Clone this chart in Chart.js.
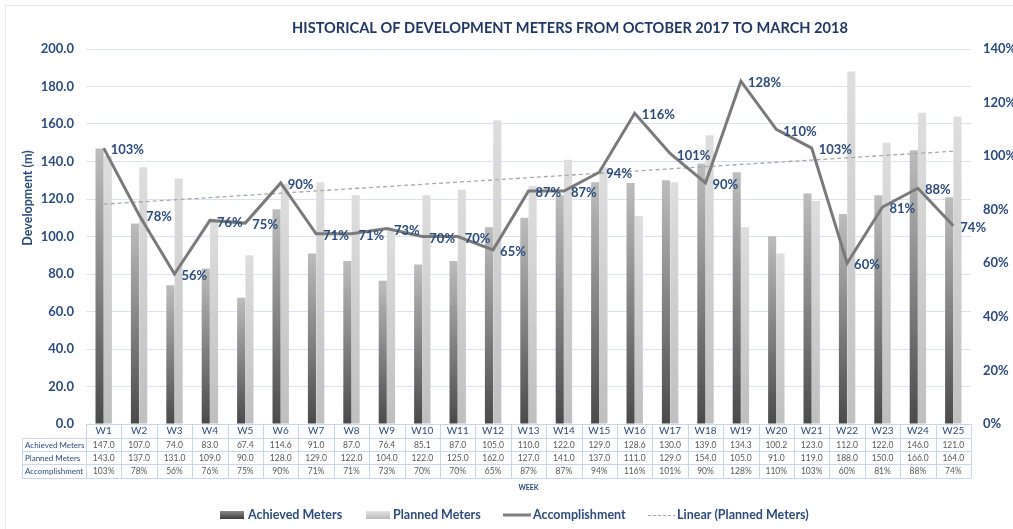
<!DOCTYPE html>
<html>
<head>
<meta charset="utf-8">
<script src="https://cdn.jsdelivr.net/npm/chart.js@4.4.1/dist/chart.umd.min.js"></script>
<style>
html,body{margin:0;padding:0;background:#fff;}
canvas{display:block;}
</style>
</head>
<body>
<canvas id="c" width="1013" height="529"></canvas>
<script>
const weeks = ['W1','W2','W3','W4','W5','W6','W7','W8','W9','W10','W11','W12','W13','W14','W15','W16','W17','W18','W19','W20','W21','W22','W23','W24','W25'];
const achieved = [147.0,107.0,74.0,83.0,67.4,114.6,91.0,87.0,76.4,85.1,87.0,105.0,110.0,122.0,129.0,128.6,130.0,139.0,134.3,100.2,123.0,112.0,122.0,146.0,121.0];
const planned = [143.0,137.0,131.0,109.0,90.0,128.0,129.0,122.0,104.0,122.0,125.0,162.0,127.0,141.0,137.0,111.0,129.0,154.0,105.0,91.0,119.0,188.0,150.0,166.0,164.0];
const accomplishment = [103,78,56,76,75,90,71,71,73,70,70,65,87,87,94,116,101,90,128,110,103,60,81,88,74];
const leftTicks = [0,20,40,60,80,100,120,140,160,180,200];
const rightTicks = [0,20,40,60,80,100,120,140];

// Linear trend of planned meters (least squares, as Excel's "Linear" trendline)
const trend = (function(){
  const n = planned.length; let sx=0, sy=0, sxx=0, sxy=0;
  planned.forEach((v,i)=>{const x=i+1; sx+=x; sy+=v; sxx+=x*x; sxy+=x*v;});
  const b = (n*sxy - sx*sy)/(n*sxx - sx*sx); const a = (sy - b*sx)/n;
  return planned.map((v,i)=>a + b*(i+1));
})();

const NAVY = '#2b4c7e';
const TITLE = '#1f3864';
const FONT = 'Lato, "Open Sans", sans-serif';

function barGrad(c0, c1){
  return function(ctx){
    const chart = ctx.chart;
    if (!chart.chartArea || ctx.type !== 'data' || !chart.scales.y) return c1;
    const ys = chart.scales.y;
    const top = ys.getPixelForValue(ctx.raw);
    const base = ys.getPixelForValue(0);
    if (!isFinite(top) || !isFinite(base) || top === base) return c1;
    const g = chart.ctx.createLinearGradient(0, base, 0, top);
    g.addColorStop(0, c0); g.addColorStop(1, c1);
    return g;
  };
}

const extras = {
  id: 'extras',
  afterDatasetsDraw(chart){
    const ctx = chart.ctx;
    const meta = chart.getDatasetMeta(0);
    ctx.save();
    ctx.font = 'bold 13px ' + FONT;
    ctx.fillStyle = NAVY;
    ctx.textAlign = 'left';
    ctx.textBaseline = 'middle';
    meta.data.forEach((pt,i)=>{
      ctx.fillText(accomplishment[i] + '%', pt.x + 7, pt.y + 2);
    });
    ctx.restore();
  },
  afterDraw(chart){
    const ctx = chart.ctx;
    const xs = chart.scales.x;
    const area = chart.chartArea;
    const colW = (area.right - area.left) / weeks.length;
    ctx.save();
    // outer chart border
    ctx.strokeStyle = '#e4e9f1'; ctx.lineWidth = 1;
    ctx.strokeRect(5.5, 5.5, 1013, 530);
    // title
    ctx.fillStyle = TITLE;
    ctx.font = 'bold 14.6px ' + FONT;
    ctx.textAlign = 'center'; ctx.textBaseline = 'middle';
    ctx.fillText('HISTORICAL OF DEVELOPMENT METERS FROM OCTOBER 2017 TO MARCH 2018', 570, 28);
    // y axis title
    ctx.save();
    ctx.translate(28, 198); ctx.rotate(-Math.PI/2);
    ctx.font = 'bold 12.5px ' + FONT; ctx.fillStyle = NAVY;
    ctx.fillText('Development (m)', 0, 0);
    ctx.restore();
    // data table
    const top = area.bottom;
    const rows = [top, top + 14, top + 27, top + 40, top + 54];
    ctx.strokeStyle = '#c9d7ec'; ctx.lineWidth = 1;
    ctx.beginPath();
    ctx.moveTo(area.left, rows[0] + 0.5); ctx.lineTo(area.right, rows[0] + 0.5);
    for (let r = 1; r < rows.length; r++){
      ctx.moveTo(22, rows[r] + 0.5); ctx.lineTo(area.right, rows[r] + 0.5);
    }
    ctx.moveTo(22.5, rows[1]); ctx.lineTo(22.5, rows[4]);
    for (let i = 0; i <= weeks.length; i++){
      const x = Math.round(area.left + i * colW) + 0.5;
      ctx.moveTo(x, rows[0]); ctx.lineTo(x, rows[4]);
    }
    ctx.stroke();
    const headers = ['Achieved Meters','Planned Meters','Accomplishment'];
    ctx.font = '8px ' + FONT; ctx.textAlign = 'left'; ctx.textBaseline = 'middle';
    ctx.fillStyle = NAVY;
    headers.forEach((h,r)=>ctx.fillText(h, 25, (rows[r+1] + rows[r+2]) / 2 + 0.5));
    ctx.font = '8.5px ' + FONT;
    ctx.fillStyle = '#595959'; ctx.textAlign = 'center';
    weeks.forEach((w,i)=>{
      const x = xs.getPixelForValue(i);
      ctx.fillText(achieved[i].toFixed(1), x, (rows[1] + rows[2]) / 2 + 0.5);
      ctx.fillText(planned[i].toFixed(1), x, (rows[2] + rows[3]) / 2 + 0.5);
      ctx.fillText(accomplishment[i] + '%', x, (rows[3] + rows[4]) / 2 + 0.5);
    });
    // legend
    const ly = 515;
    ctx.font = 'bold 12.5px ' + FONT; ctx.textAlign = 'left'; ctx.textBaseline = 'middle'; ctx.fillStyle = NAVY;
    let g = ctx.createLinearGradient(0, ly + 4, 0, ly - 4);
    g.addColorStop(0, '#3c3c3c'); g.addColorStop(1, '#8c8c8c');
    ctx.fillStyle = g; ctx.fillRect(220, ly - 4, 24, 8);
    ctx.fillStyle = NAVY; ctx.fillText('Achieved Meters', 248, ly);
    g = ctx.createLinearGradient(0, ly + 4, 0, ly - 4);
    g.addColorStop(0, '#bcbcbc'); g.addColorStop(1, '#e2e2e2');
    ctx.fillStyle = g; ctx.fillRect(366, ly - 4, 24, 8);
    ctx.fillStyle = NAVY; ctx.fillText('Planned Meters', 393, ly);
    ctx.strokeStyle = '#7f7f7f'; ctx.lineWidth = 3;
    ctx.beginPath(); ctx.moveTo(503, ly); ctx.lineTo(531, ly); ctx.stroke();
    ctx.fillText('Accomplishment', 533, ly);
    ctx.strokeStyle = '#a8a8a8'; ctx.lineWidth = 1.2; ctx.setLineDash([3,2]);
    ctx.beginPath(); ctx.moveTo(648, ly + 0.5); ctx.lineTo(675, ly + 0.5); ctx.stroke();
    ctx.setLineDash([]);
    ctx.fillText('Linear (Planned Meters)', 677, ly);
    ctx.restore();
  }
};

new Chart(document.getElementById('c'), {
  data: {
    labels: weeks,
    datasets: [
      {type:'line', label:'Accomplishment', data: accomplishment, yAxisID:'y1', borderColor:'#7a7a7a', borderWidth:3, pointRadius:0, tension:0, order:0, borderJoinStyle:'miter'},
      {type:'line', label:'Linear (Planned Meters)', data: trend, yAxisID:'y', borderColor:'#a8a8a8', borderWidth:1.3, borderDash:[4,3], pointRadius:0, order:1},
      {type:'bar', label:'Achieved Meters', data: achieved, yAxisID:'y', backgroundColor: barGrad('#4a4a4a','#bdbdbd'), categoryPercentage:0.47, barPercentage:0.97, order:2},
      {type:'bar', label:'Planned Meters', data: planned, yAxisID:'y', backgroundColor: barGrad('#bfbfbf','#dedede'), categoryPercentage:0.47, barPercentage:0.97, order:3}
    ]
  },
  options: {
    responsive:false,
    animation:false,
    layout:{padding:{top:49, bottom:35, left:0, right:0}},
    plugins:{legend:{display:false}, tooltip:{enabled:false}, title:{display:false}},
    scales:{
      x:{
        offset:true,
        grid:{display:false, drawTicks:false},
        border:{display:false},
        ticks:{color:NAVY, font:{family:FONT, size:10}, padding:1, maxRotation:0, autoSkip:false},
        title:{display:true, text:'WEEK', color:NAVY, font:{family:FONT, size:7, weight:'bold'}, padding:{top:0, bottom:2}},
        afterFit(s){ s.height = 70; }
      },
      y:{
        position:'left', min:0, max:200,
        afterBuildTicks(s){ s.ticks = leftTicks.map(v=>({value:v})); },
        ticks:{color:NAVY, font:{family:FONT, size:13, weight:'bold'}, padding:12, callback:v=>Number(v).toFixed(1)},
        grid:{color:'#d9e3f2', drawTicks:false, lineWidth:1},
        border:{display:false},
        afterFit(s){ s.width = 86; }
      },
      y1:{
        position:'right', min:0, max:140,
        afterBuildTicks(s){ s.ticks = rightTicks.map(v=>({value:v})); },
        ticks:{color:NAVY, font:{family:FONT, size:13, weight:'bold'}, padding:12, callback:v=>v+'%'},
        grid:{display:false, drawTicks:false},
        border:{display:false},
        afterFit(s){ s.width = 42; }
      }
    }
  },
  plugins:[extras]
});
</script>
</body>
</html>
